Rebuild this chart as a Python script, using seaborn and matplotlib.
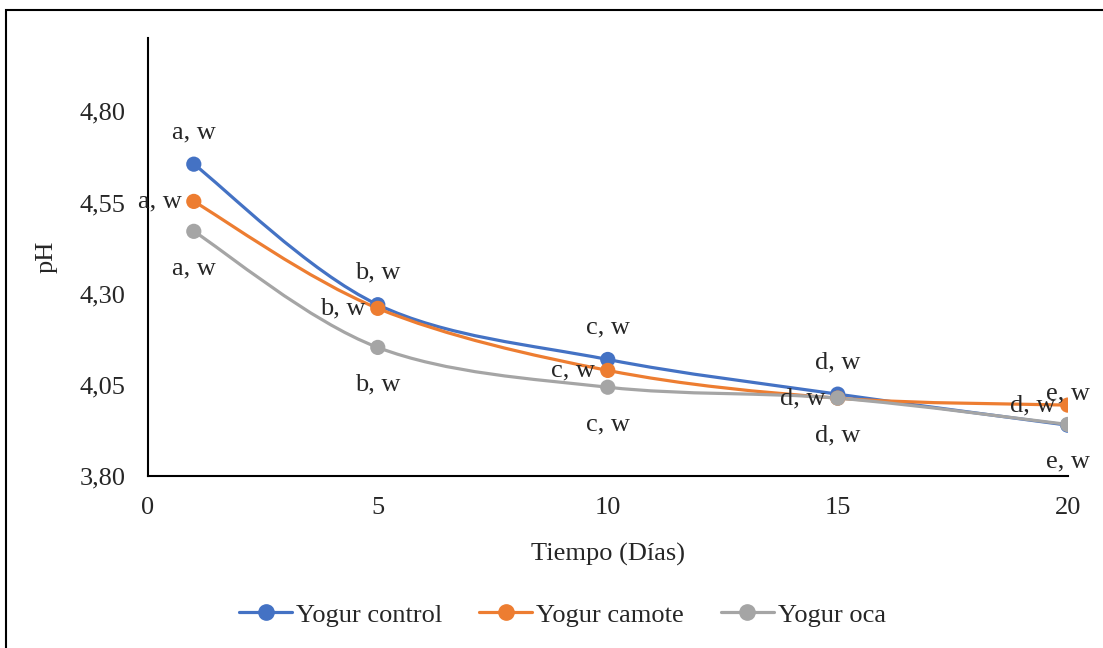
import numpy as np
import pandas as pd
import matplotlib
matplotlib.use("Agg")
import matplotlib.pyplot as plt
import seaborn as sns
from matplotlib.path import Path
from matplotlib.patches import PathPatch, Rectangle
from matplotlib.lines import Line2D
from matplotlib.ticker import FuncFormatter, MultipleLocator, FixedLocator

sns.set_style("white")
plt.rcParams['font.family'] = ['Liberation Serif', 'DejaVu Serif']
plt.rcParams['font.size'] = 19

# Data
dias = [1, 5, 10, 15, 20]
ph_control = [4.655, 4.270, 4.120, 4.025, 3.940]
ph_camote = [4.553, 4.260, 4.090, 4.014, 3.995]
ph_oca = [4.471, 4.153, 4.044, 4.014, 3.942]
series_names = ['Yogur control', 'Yogur camote', 'Yogur oca']
lab_control = ['a, w', 'b, w', 'c, w', 'd, w', 'e, w']
lab_camote = ['a, w', 'b, w', 'c, w', 'd, w', 'd, w']
lab_oca = ['a, w', 'b, w', 'c, w', 'd, w', 'e, w']
y_ticks = [3.80, 4.05, 4.30, 4.55, 4.80]

colors = {'Yogur control': '#4472C4', 'Yogur camote': '#ED7D31', 'Yogur oca': '#A5A5A5'}

df = pd.DataFrame({
    'Dia': dias * 3,
    'pH': ph_control + ph_camote + ph_oca,
    'Serie': [s for s in series_names for _ in dias],
})

fig = plt.figure(figsize=(11.03, 6.48), dpi=100)
ax = fig.add_axes([0.134, 0.265, 0.834, 0.676])

def smooth_path(xs, ys):
    # Excel-style smoothed line: Catmull-Rom turned into cubic Bezier segments
    pts = np.column_stack([xs, ys])
    verts = [pts[0]]
    codes = [Path.MOVETO]
    n = len(pts)
    for i in range(n - 1):
        p0 = pts[max(i - 1, 0)]
        p1 = pts[i]
        p2 = pts[i + 1]
        p3 = pts[min(i + 2, n - 1)]
        verts += [p1 + (p2 - p0) / 6, p2 - (p3 - p1) / 6, p2]
        codes += [Path.CURVE4] * 3
    return Path(verts, codes)

for name in series_names:
    sub = df[df['Serie'] == name]
    ax.add_patch(PathPatch(smooth_path(sub['Dia'].values, sub['pH'].values),
                           facecolor='none', edgecolor=colors[name], lw=2.3,
                           capstyle='round', zorder=2))

sns.scatterplot(data=df, x='Dia', y='pH', hue='Serie', palette=colors,
                s=120, edgecolor='none', legend=False, zorder=3, ax=ax)

# data labels: control above, camote left, oca below
for x, y, t in zip(dias, ph_control, lab_control):
    ax.annotate(t, (x, y), xytext=(0, 23), textcoords='offset points',
                ha='center', va='center', fontsize=19)
for x, y, t in zip(dias, ph_camote, lab_camote):
    ax.annotate(t, (x, y), xytext=(-9, 0), textcoords='offset points',
                ha='right', va='center', fontsize=19)
for x, y, t in zip(dias, ph_oca, lab_oca):
    ax.annotate(t, (x, y), xytext=(0, -27), textcoords='offset points',
                ha='center', va='center', fontsize=19)

ax.set_xlim(0, 20)
ax.set_ylim(3.80, 5.00)
ax.xaxis.set_major_locator(MultipleLocator(5))
ax.yaxis.set_major_locator(FixedLocator(y_ticks))
ax.yaxis.set_major_formatter(FuncFormatter(lambda v, p: f"{v:.2f}".replace('.', ',')))
ax.tick_params(axis='both', length=0, labelsize=19)
ax.tick_params(axis='y', pad=16)
ax.tick_params(axis='x', pad=15)
ax.set_xlabel('Tiempo (Días)', fontsize=19, labelpad=17)
ax.set_ylabel('pH', fontsize=19, labelpad=16)

for side in ['top', 'right']:
    ax.spines[side].set_visible(False)
for side in ['left', 'bottom']:
    ax.spines[side].set_color('black')
    ax.spines[side].set_linewidth(1.5)

handles = [Line2D([0], [0], color=colors[n], lw=2.3, marker='o', markersize=11)
           for n in series_names]
fig.legend(handles, series_names, loc='center', bbox_to_anchor=(0.51, 0.051),
           ncol=3, frameon=False, fontsize=19, handlelength=2.0,
           handletextpad=0.15, columnspacing=1.4)

# outer chart frame (only top and left edges visible in the crop)
fig.patches.append(Rectangle((6 / 1103, -0.1), 1.2, 1 - 10 / 648 + 0.1,
                             transform=fig.transFigure, fill=False,
                             edgecolor='black', lw=1.5))

fig.savefig('out.png', dpi=100)
